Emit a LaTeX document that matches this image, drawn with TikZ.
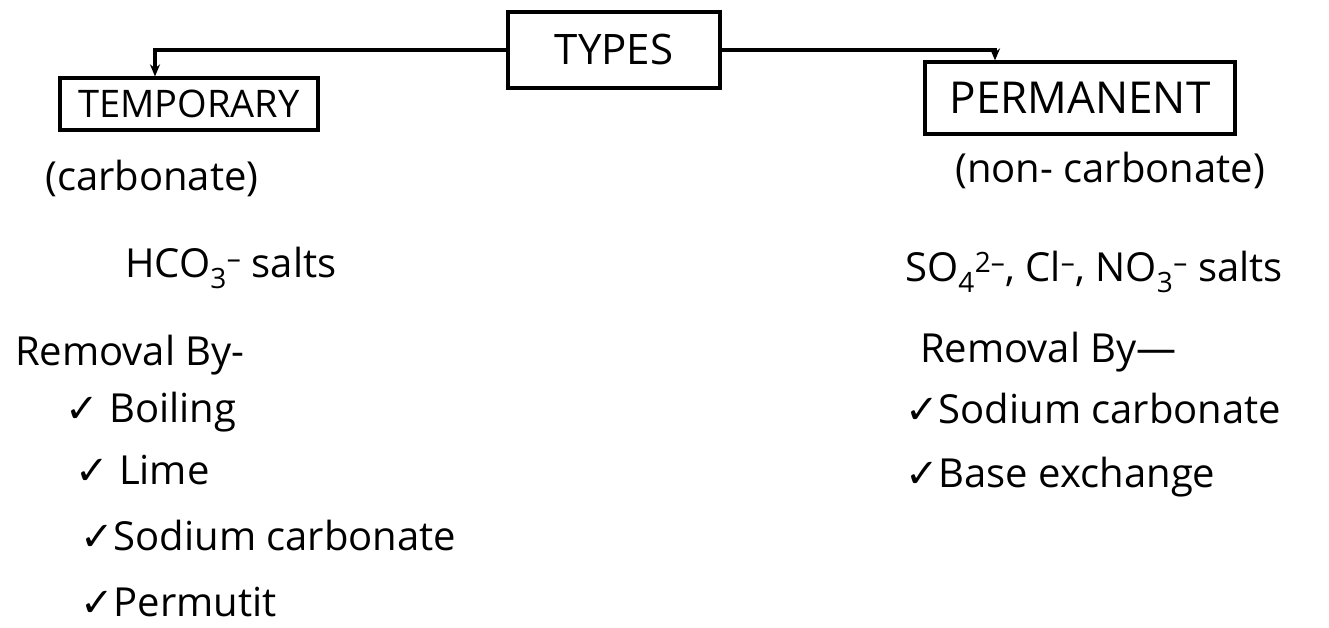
\documentclass[tikz,border=0pt]{standalone}
\usepackage{fontspec}
\setmainfont{Open Sans}
\newfontfamily\symf{DejaVu Sans}
\usetikzlibrary{arrows.meta}
\newcommand{\ck}{{\symf ✓}}
\begin{document}
\begin{tikzpicture}[x=1pt,y=-1pt,
  hbox/.style={draw=black,line width=3.2pt,inner sep=0pt},
  txt/.style={anchor=west,inner sep=0pt,font=\fontsize{40}{48}\selectfont},
  conn/.style={line width=3.2pt,-{Stealth[length=12pt,width=10pt]}}]
\useasboundingbox (0,0) rectangle (1329,628);
\node[hbox,minimum width=212pt,minimum height=76pt,font=\fontsize{42}{50}\selectfont] (types) at (614,50) {TYPES};
\node[hbox,minimum width=258pt,minimum height=52pt,font=\fontsize{38}{46}\selectfont] (temp) at (189,104) {TEMPORARY};
\node[hbox,minimum width=310pt,minimum height=72pt,font=\fontsize{44}{52}\selectfont] (perm) at (1080,98) {PERMANENT};
\draw[conn] (types.west) -| ([xshift=-34pt]temp.north);
\draw[conn] (types.east) -| ([xshift=-85pt]perm.north);
\node[txt] (carb) at (45,178) {(carbonate)};
\node[txt] (hco) at (125,268) {HCO\textsubscript{3}\textsuperscript{–} salts};
\node[txt] (remL) at (15,355) {Removal By-};
\node[txt] (boil) at (65,412) {\ck\ Boiling};
\node[txt] (lime) at (75,470) {\ck\ Lime};
\node[txt] (sodL) at (80,535) {\ck Sodium carbonate};
\node[txt] (perm2) at (80,602) {\ck Permutit};
\node[txt] (ncarb) at (955,170) {(non- carbonate)};
\node[txt] (so) at (905,272) {SO\textsubscript{4}\textsuperscript{2–}, Cl\textsuperscript{–}, NO\textsubscript{3}\textsuperscript{–} salts};
\node[txt] (remR) at (920,352) {Removal By—};
\node[txt] (sodR) at (905,408) {\ck Sodium carbonate};
\node[txt] (base) at (905,477) {\ck Base exchange};
\end{tikzpicture}
\end{document}
